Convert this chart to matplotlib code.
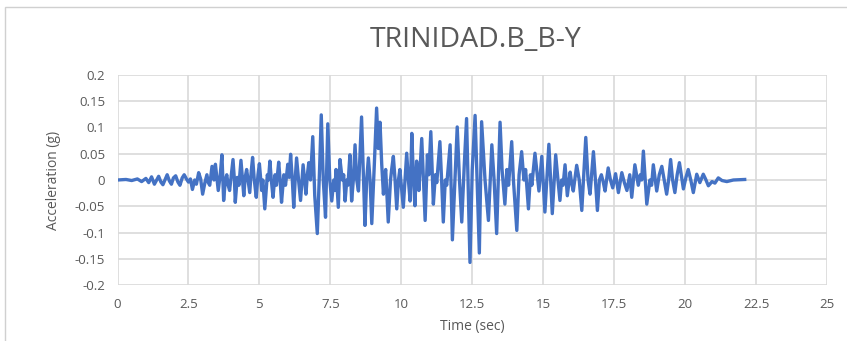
"""Acelerograma TRINIDAD.B_B-Y, estilo de grafico do Excel."""

import matplotlib
matplotlib.use("Agg")
import matplotlib.pyplot as plt
from matplotlib.patches import Rectangle

# extremos, por trecho (tempo em s, aceleracao em g)
t_onset = [0.0, 0.3, 0.5, 0.7, 0.85, 1.0, 1.1, 1.2, 1.3, 1.38, 1.45, 1.53,
           1.6, 1.75, 1.83, 1.9, 1.97, 2.05, 2.13, 2.2, 2.28, 2.35, 2.43,
           2.5, 2.57, 2.64, 2.72, 2.78, 2.86, 2.93, 3.0, 3.08, 3.15, 3.2,
           3.25, 3.33, 3.4, 3.45, 3.5, 3.55, 3.62, 3.68, 3.74]
a_onset = [0.0, 0.001, -0.001, 0.002, -0.003, 0.003, -0.005, 0.006, -0.008,
           0.0, 0.007, -0.004, -0.009, 0.010, -0.002, -0.008, 0.004, 0.008,
           -0.004, -0.010, 0.004, 0.010, 0.002, -0.004, 0.002, -0.018, 0.0,
           -0.008, 0.014, 0.002, -0.027, -0.005, 0.010, -0.005, -0.010,
           0.026, 0.0, 0.030, 0.005, -0.020, 0.010, 0.048, -0.039]

t_strong1 = [3.8, 3.85, 3.9, 3.95, 4.02, 4.07, 4.12, 4.15, 4.22, 4.28, 4.35,
             4.40, 4.45, 4.50, 4.55, 4.60, 4.66, 4.71, 4.76, 4.82, 4.89,
             4.95, 5.0, 5.08, 5.12, 5.19, 5.28, 5.32, 5.37, 5.42, 5.48,
             5.55, 5.6, 5.68, 5.73, 5.78, 5.86, 5.92, 6.0, 6.05, 6.10,
             6.16, 6.21, 6.26, 6.31, 6.38, 6.45, 6.5, 6.54, 6.59, 6.64,
             6.69, 6.74, 6.80, 6.88, 6.95, 7.04, 7.12, 7.18, 7.25, 7.33,
             7.41]
a_strong1 = [0.0, 0.010, -0.010, -0.020, 0.015, 0.039, 0.0, -0.0425, 0.005,
             -0.010, 0.0375, 0.005, -0.030, 0.005, 0.020, 0.0, -0.024,
             0.015, 0.043, 0.0, -0.033, 0.010, 0.031, -0.020, 0.0, -0.055,
             0.010, 0.0, 0.036, 0.0, -0.033, 0.010, -0.010, 0.034, 0.0,
             -0.0425, 0.010, -0.010, 0.030, 0.005, 0.049, 0.0, -0.052, 0.0,
             0.042, 0.0, -0.039, 0.0, 0.029, 0.0, -0.027, 0.010, 0.033, 0.0,
             0.0825, -0.030, -0.102, 0.020, 0.124, 0.0, -0.071, 0.107]

t_strong2 = [7.48, 7.55, 7.62, 7.66, 7.70, 7.78, 7.84, 7.92, 7.97, 8.02,
             8.08, 8.12, 8.19, 8.25, 8.31, 8.37, 8.43, 8.49, 8.60, 8.72,
             8.78, 8.84, 8.9, 8.96, 9.05, 9.13, 9.19, 9.25, 9.31, 9.37,
             9.42, 9.45, 9.54, 9.62, 9.66, 9.72, 9.78, 9.84, 9.9, 9.95,
             10.0, 10.07, 10.13, 10.19, 10.25, 10.31, 10.37, 10.43, 10.48,
             10.54, 10.58, 10.62, 10.72, 10.78, 10.84, 10.92, 10.97, 11.04,
             11.13]
a_strong2 = [0.0, -0.040, 0.0, -0.020, 0.020, -0.052, 0.039, 0.0, 0.010,
             -0.040, 0.0, -0.010, 0.048, -0.040, 0.0, 0.067, 0.0, -0.021,
             0.120, -0.0865, 0.0, 0.042, 0.0, -0.083, 0.030, 0.137, 0.060,
             0.110, 0.030, -0.027, 0.010, 0.020, -0.080, 0.0, 0.020, 0.045,
             0.0, -0.055, 0.0, 0.020, -0.010, -0.052, 0.0, 0.051, 0.0,
             -0.040, 0.0888, 0.0, -0.049, 0.036, 0.010, -0.020, 0.079, 0.0,
             -0.077, 0.048, 0.010, 0.092, -0.046]

t_strong3 = [11.2, 11.25, 11.36, 11.42, 11.48, 11.55, 11.6, 11.72, 11.80,
             11.97, 12.05, 12.13, 12.22, 12.30, 12.42, 12.50, 12.60, 12.67,
             12.75, 12.83, 12.95, 13.07, 13.19, 13.27, 13.36, 13.48, 13.55,
             13.65, 13.72, 13.78, 13.89, 13.95, 14.07, 14.15, 14.24, 14.32,
             14.38, 14.48, 14.55, 14.6, 14.71, 14.85]
a_strong3 = [0.010, -0.005, 0.073, 0.0, -0.080, 0.0, -0.010, 0.067, -0.114,
             0.101, 0.0, -0.080, 0.030, 0.117, -0.157, 0.020, 0.123, 0.0,
             -0.139, 0.111, 0.0, -0.077, 0.067, 0.0, -0.102, 0.110, 0.020,
             -0.046, 0.020, -0.010, 0.073, 0.0, -0.096, 0.010, 0.054, 0.0,
             0.020, -0.055, 0.010, -0.010, 0.051, -0.021]

t_coda = [14.95, 15.06, 15.20, 15.32, 15.44, 15.52, 15.59, 15.65, 15.7,
          15.77, 15.85, 15.95, 16.0, 16.06, 16.18, 16.27, 16.36, 16.50,
          16.58, 16.65, 16.77, 16.84, 16.91, 16.98, 17.05, 17.12, 17.18,
          17.29, 17.37, 17.45, 17.55, 17.65, 17.77, 17.86, 17.95, 18.05,
          18.12, 18.23, 18.35, 18.42, 18.47, 18.53, 18.65, 18.76, 18.82,
          18.88, 19.0, 19.09, 19.18, 19.35, 19.42, 19.49, 19.56, 19.64,
          19.72, 19.80, 19.94, 20.03, 20.11, 20.2, 20.29, 20.41, 20.52,
          20.64, 20.72, 20.82, 20.95, 21.05, 21.17, 21.3, 21.47, 21.7,
          22.05, 22.1]
a_coda = [0.045, -0.061, 0.068, -0.064, 0.048, 0.0, -0.039, 0.0, -0.010,
          0.029, -0.030, 0.015, -0.005, -0.021, 0.028, 0.0, -0.058, 0.081,
          0.0, -0.027, 0.054, 0.0, -0.058, 0.0, 0.010, -0.005, -0.021,
          0.023, 0.0, -0.015, 0.012, -0.024, 0.014, -0.005, -0.020, 0.010,
          -0.033, 0.029, -0.010, 0.010, 0.0, 0.055, -0.046, 0.0, -0.010,
          0.029, -0.021, 0.010, 0.026, -0.027, 0.0, 0.039, 0.0, -0.024,
          0.010, 0.033, -0.017, 0.005, 0.020, 0.0, -0.024, 0.011, -0.005,
          0.011, 0.002, -0.011, -0.003, -0.006, 0.004, -0.001, -0.003, 0.0,
          0.001, 0.001]

time_s = t_onset + t_strong1 + t_strong2 + t_strong3 + t_coda
accel_g = a_onset + a_strong1 + a_strong2 + a_strong3 + a_coda
assert len(time_s) == len(accel_g), (len(time_s), len(accel_g))

x_ticks = [0, 2.5, 5, 7.5, 10, 12.5, 15, 17.5, 20, 22.5, 25]
y_ticks = [-0.2, -0.15, -0.1, -0.05, 0, 0.05, 0.1, 0.15, 0.2]

TXT = "#595959"
GRID = "#D9D9D9"
LINE = "#4472C4"

plt.rcParams["font.family"] = ["Open Sans", "DejaVu Sans"]

fig = plt.figure(figsize=(8.47, 3.41), dpi=100)
# moldura da area do grafico (cortada a direita e embaixo)
fig.patches.append(Rectangle((5 / 847, -0.05), 1.2, 1 - 7 / 341 + 0.05,
                             transform=fig.transFigure, fill=False,
                             edgecolor="#D0D0D0", linewidth=1.0))

ax = fig.add_axes([117.5 / 847, 1 - 285 / 341, (827 - 117.5) / 847, 210 / 341])
ax.plot(time_s, accel_g, color=LINE, linewidth=2.4, solid_joinstyle="round")

ax.set_xlim(0, 25)
ax.set_ylim(-0.2, 0.2)
ax.set_xticks(x_ticks)
ax.set_xticklabels([f"{v:g}" for v in x_ticks])
ax.set_yticks(y_ticks)
ax.set_yticklabels([f"{v:g}" for v in y_ticks])
ax.grid(True, color=GRID, linewidth=1.2)
ax.set_axisbelow(True)
for s in ax.spines.values():
    s.set_visible(False)
ax.tick_params(length=0, colors=TXT, labelsize=9.5, pad=9)

ax.set_xlabel("Time (sec)", color=TXT, fontsize=10, labelpad=6)
ax.set_ylabel("Acceleration (g)", color=TXT, fontsize=10, labelpad=10)
fig.text(0.562, 1 - 40 / 341, "TRINIDAD.B_B-Y", color=TXT, fontsize=20.5,
         ha="center", va="center")

fig.savefig("out.png", dpi=100)
